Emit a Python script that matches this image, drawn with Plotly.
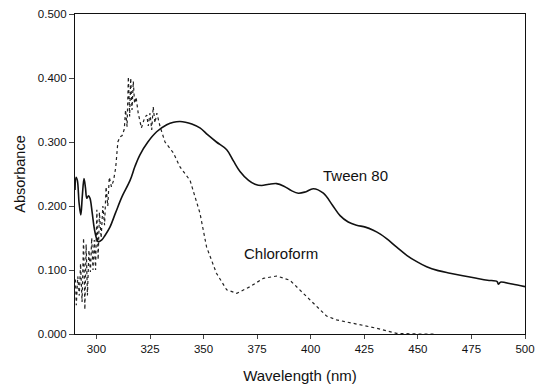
import plotly.graph_objects as go

# Tween 80 (solid)
tween_wl = [290.0, 290.5, 291.1, 291.9, 292.7, 293.4, 294.2, 294.9, 295.5, 296.3, 297.0, 298.0,
            299.0, 300.0, 300.9, 302.5, 304.0, 306.3, 309.0, 312.0, 315.7, 318.0, 320.3, 324.0,
            328.1, 332.8, 336.0, 339.0, 341.5, 344.5, 348.3, 352.0, 356.0, 360.8, 364.0, 367.0,
            371.0, 374.0, 377.1, 380.5, 384.1, 387.5, 391.0, 394.2, 397.5, 401.2, 405.9, 410.0,
            413.7, 417.5, 421.4, 425.5, 429.2, 432.5, 435.4, 440.0, 444.8, 449.5, 454.1, 459.5,
            465.0, 471.0, 477.4, 482.5, 487.0, 487.5, 488.0, 488.5, 494.0, 500.0]
tween_abs = [0.225, 0.245, 0.240, 0.205, 0.186, 0.215, 0.243, 0.228, 0.212, 0.216, 0.212, 0.190,
             0.165, 0.150, 0.144, 0.147, 0.154, 0.167, 0.190, 0.215, 0.240, 0.262, 0.280, 0.300,
             0.316, 0.327, 0.331, 0.332, 0.331, 0.328, 0.322, 0.311, 0.300, 0.288, 0.270, 0.254,
             0.240, 0.234, 0.232, 0.234, 0.235, 0.231, 0.224, 0.220, 0.222, 0.227, 0.220, 0.202,
             0.185, 0.175, 0.170, 0.167, 0.162, 0.156, 0.149, 0.136, 0.123, 0.113, 0.105, 0.099,
             0.095, 0.091, 0.087, 0.084, 0.082, 0.078, 0.079, 0.081, 0.078, 0.074]

# Chloroform (dotted)
chloro_wl = [290.2, 290.6, 291.3, 292.0, 292.6, 293.3, 294.0, 294.6, 295.2, 295.8, 296.5, 297.2,
             297.8, 298.4, 299.0, 299.6, 300.2, 300.8, 301.4, 302.2, 303.0, 303.8, 304.5, 305.3,
             306.0, 307.0, 308.0, 309.0, 310.0, 311.0, 312.0, 313.0, 313.6, 314.3, 314.9, 315.5,
             316.0, 316.6, 317.2, 317.8, 318.5, 319.5, 321.0, 322.5, 323.5, 324.2, 325.0, 325.8,
             326.5, 327.3, 328.2, 329.7, 332.0, 335.9, 339.0, 343.7, 348.3, 351.4, 356.0, 360.8,
             365.5, 371.7, 377.9, 384.1, 390.3, 396.5, 402.8, 407.4, 412.1, 421.4, 430.8, 440.1,
             445.0, 450.0, 458.0]
chloro_abs = [0.085, 0.045, 0.090, 0.060, 0.110, 0.050, 0.150, 0.038, 0.140, 0.060, 0.131, 0.097,
              0.150, 0.100, 0.147, 0.100, 0.194, 0.116, 0.190, 0.150, 0.200, 0.170, 0.230, 0.200,
              0.245, 0.230, 0.240, 0.260, 0.300, 0.308, 0.310, 0.320, 0.350, 0.324, 0.402, 0.340,
              0.400, 0.350, 0.395, 0.360, 0.370, 0.345, 0.322, 0.338, 0.342, 0.325, 0.345, 0.319,
              0.355, 0.330, 0.345, 0.324, 0.300, 0.283, 0.261, 0.240, 0.189, 0.136, 0.095, 0.069,
              0.0635, 0.074, 0.087, 0.0906, 0.084, 0.0635, 0.043, 0.028, 0.022, 0.0156, 0.009, 0.001,
              0.0, 0.0, 0.0]

x_ticks = [300, 325, 350, 375, 400, 425, 450, 475, 500]
y_ticks = [0.0, 0.1, 0.2, 0.3, 0.4, 0.5]
y_tick_labels = ["0.000", "0.100", "0.200", "0.300", "0.400", "0.500"]

fig = go.Figure()
fig.add_trace(go.Scatter(x=chloro_wl, y=chloro_abs, mode="lines",
                         line=dict(color="#222", width=1.2, dash="dot"), showlegend=False))
fig.add_trace(go.Scatter(x=tween_wl, y=tween_abs, mode="lines", line_shape="spline",
                         line=dict(color="#111", width=1.6), showlegend=False))

fig.add_annotation(x=420.8, y=0.248, text="Tween 80", showarrow=False,
                   font=dict(size=15, color="#111", family="Liberation Sans, Arial"))
fig.add_annotation(x=386, y=0.126, text="Chloroform", showarrow=False,
                   font=dict(size=15, color="#111", family="Liberation Sans, Arial"))

fig.update_layout(
    width=536, height=387,
    margin=dict(l=75, r=11, t=14, b=53, autoexpand=False),
    paper_bgcolor="white", plot_bgcolor="white",
    font=dict(family="Liberation Sans, Arial", color="#111"),
)
fig.update_xaxes(range=[290, 500], tickvals=x_ticks, ticks="outside", ticklen=4,
                 tickfont=dict(size=11.5), showgrid=False, zeroline=False, automargin=False,
                 showline=True, linecolor="#111", linewidth=1.2, mirror=True,
                 title=dict(text="Wavelength (nm)", font=dict(size=15), standoff=16))
fig.update_yaxes(range=[0, 0.5], tickvals=y_ticks, ticktext=y_tick_labels, ticks="outside",
                 ticklen=5, tickfont=dict(size=11.5), showgrid=False, zeroline=False, automargin=False,
                 showline=True, linecolor="#111", linewidth=1.2, mirror=True,
                 title=dict(text="Absorbance", font=dict(size=14.5), standoff=8))

fig.write_html("out.html")
